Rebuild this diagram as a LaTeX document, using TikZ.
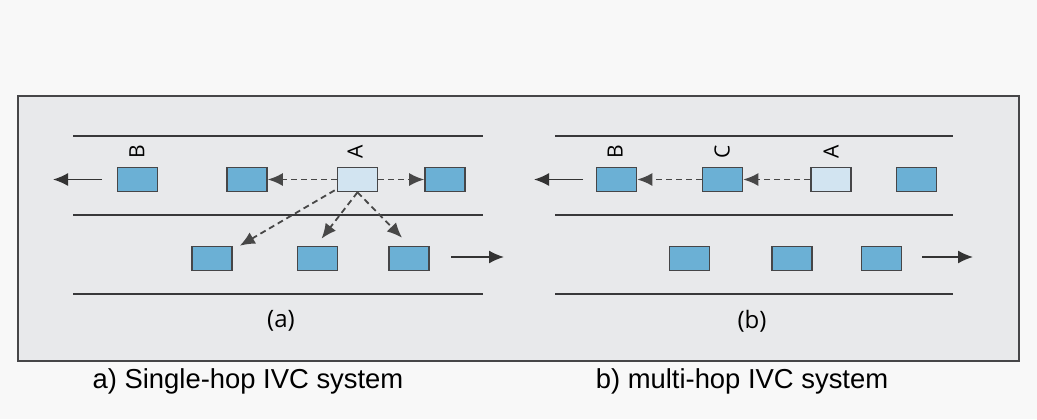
\documentclass[tikz,border=0pt]{standalone}
\usepackage{fontspec}
\setmainfont{Liberation Sans}
\newfontfamily\panelfont{Open Sans}
\usetikzlibrary{arrows.meta}
\definecolor{carblue}{RGB}{107,176,213}
\definecolor{carpale}{RGB}{210,228,241}
\definecolor{panelgray}{RGB}{232,233,235}
\definecolor{edgegray}{RGB}{70,70,72}
\definecolor{pagegray}{RGB}{248,248,248}
\tikzset{
  car/.style={draw=edgegray, line width=0.8pt, fill=carblue, minimum width=20pt, minimum height=12pt, inner sep=0pt},
  carA/.style={car, fill=carpale},
  lane/.style={draw=edgegray!80!black, line width=1pt},
  move/.style={-{Latex[length=7.5pt,width=6.5pt]}, line width=0.8pt, draw=black!80},
  msg/.style={-{Latex[length=7.5pt,width=6.5pt]}, line width=0.9pt, draw=black!72, dash pattern=on 3pt off 2pt},
  lbl/.style={font=\panelfont\fontsize{10.5}{12}\selectfont, rotate=90, inner sep=0pt}
}
\begin{document}
\begin{tikzpicture}[x=0.5pt, y=-0.5pt]
\useasboundingbox (0,0) rectangle (1037,419);
\fill[pagegray] (0,0) rectangle (1037,419);
\draw[fill=panelgray, draw=edgegray, line width=0.8pt] (18,96) rectangle (1019,361);

% (a) single hop
\foreach \y in {136,215,294} \draw[lane] (73,\y) -- (483,\y);
\node[car] (aB) at (137.5,179.5) {};
\node[car] (a2) at (247,179.5) {};
\node[carA] (aA) at (357.5,179.5) {};
\node[car] (a4) at (445,179.5) {};
\node[car] (a5) at (212,258.5) {};
\node[car] (a6) at (317.5,258.5) {};
\node[car] (a7) at (409,258.5) {};
\node[lbl] at (137,152) {B};
\node[lbl] at (355,152) {A};
\coordinate (aL1) at (102,179.5);
\coordinate (aL2) at (53,179.5);
\coordinate (aR1) at (451,257);
\coordinate (aR2) at (504,257);
\draw[move] (aL1) -- (aL2);
\draw[move] (aR1) -- (aR2);
\draw[msg] (aA.west) -- (a2.east);
\draw[msg] (aA.east) -- (a4.west);
\draw[msg] ([xshift=-1pt,yshift=1pt]aA.south west) -- ([xshift=3.5pt]a5.north east);
\draw[msg] (aA.south) -- ([xshift=2pt,yshift=3.5pt]a6.north);
\draw[msg] (aA.south) -- ([xshift=-3.5pt,yshift=4pt]a7.north);
\node[font=\panelfont\fontsize{12}{14}\selectfont] at (281,321) {(a)};

% (b) multi hop
\foreach \y in {136,215,294} \draw[lane] (555,\y) -- (953,\y);
\node[car] (bB) at (616.5,179.5) {};
\node[car] (bC) at (722.5,179.5) {};
\node[carA] (bA) at (831,179.5) {};
\node[car] (b4) at (916.5,179.5) {};
\node[car] (b5) at (689.5,258.5) {};
\node[car] (b6) at (792,258.5) {};
\node[car] (b7) at (881.5,258.5) {};
\node[lbl] at (615,152) {B};
\node[lbl] at (722,152) {C};
\node[lbl] at (831,152) {A};
\coordinate (bL1) at (583,179.5);
\coordinate (bL2) at (534,179.5);
\coordinate (bR1) at (922,257);
\coordinate (bR2) at (973,257);
\draw[move] (bL1) -- (bL2);
\draw[move] (bR1) -- (bR2);
\draw[msg] (bA.west) -- (bC.east);
\draw[msg] (bC.west) -- (bB.east);
\node[font=\panelfont\fontsize{12}{14}\selectfont] at (752,321) {(b)};

% captions
\node[font=\fontsize{13.7}{16}\selectfont, anchor=base] at (248,388) {a) Single-hop IVC system};
\node[font=\fontsize{13.7}{16}\selectfont, anchor=base] at (742,388) {b) multi-hop IVC system};
\end{tikzpicture}
\end{document}
